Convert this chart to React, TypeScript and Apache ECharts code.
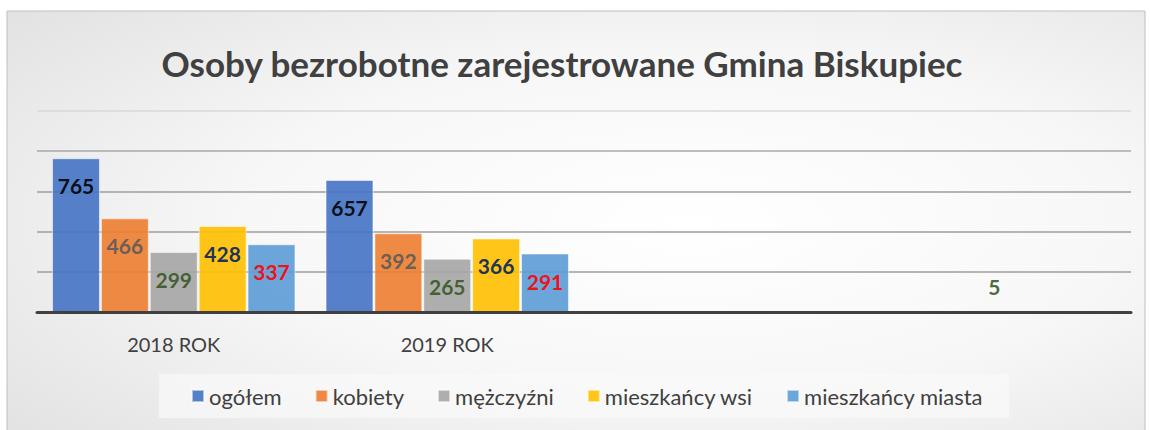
import React, { useEffect, useRef } from "react";
import * as echarts from "echarts";

const categories = ["2018 ROK", "2019 ROK", "", ""];
const seriesNames = ["ogółem", "kobiety", "mężczyźni", "mieszkańcy wsi", "mieszkańcy miasta"];
const ogolem = [765, 657, null, null];
const kobiety = [466, 392, null, null];
const mezczyzni = [299, 265, null, 5];
const mieszkancyWsi = [428, 366, null, null];
const mieszkancyMiasta = [337, 291, null, null];
const yTicks = [0, 200, 400, 600, 800, 1000];

const barColors = ["#4472C4", "#ED7D31", "#A5A5A5", "#FFC000", "#5B9BD5"];
const labelColors = ["#000000", "#595959", "#375623", "#002060", "#FF0000"];

export default function App() {
  const ref = useRef<HTMLDivElement>(null);
  useEffect(() => {
    if (!ref.current) return;
    const chart = echarts.init(ref.current, null, { renderer: "svg" });
    const values = [ogolem, kobiety, mezczyzni, mieszkancyWsi, mieszkancyMiasta];
    const series = values.map((vals, i) => ({
      name: seriesNames[i],
      type: "bar",
      barGap: "2%",
      barCategoryGap: "11%",
      itemStyle: {
        color: barColors[i],
        opacity: 0.9,
        borderColor: "rgba(255,255,255,0.6)",
        borderWidth: 1,
      },
      label: {
        show: true,
        position: "insideTop",
        distance: 17,
        fontFamily: "Lato",
        fontWeight: "bold",
        fontSize: 21,
        color: labelColors[i],
      },
      data: vals.map((v) =>
        v !== null && v < 50
          ? {
              value: v,
              itemStyle: { borderWidth: 0 },
              label: { position: "top", distance: 14 },
            }
          : v
      ),
    }));
    chart.setOption({
      animation: false,
      graphic: [
        {
          type: "rect",
          z: -100,
          shape: { x: 7, y: 11, width: 1138, height: 425 },
          style: {
            fill: new echarts.graphic.RadialGradient(0.6, 0.5, 1.3, [
              { offset: 0, color: "#ffffff" },
              { offset: 0.3, color: "#f7f7f7" },
              { offset: 1, color: "#c6c6c6" },
            ]),
            stroke: "#bfbfbf",
            lineWidth: 1,
          },
        },
      ],
      title: {
        text: "Osoby bezrobotne zarejestrowane Gmina Biskupiec",
        left: 557,
        textAlign: "center",
        top: 38,
        textStyle: {
          fontFamily: "Lato",
          fontWeight: "bold",
          fontSize: 35,
          lineHeight: 40,
          color: "#404040",
        },
      },
      legend: {
        data: seriesNames,
        left: 159,
        top: 374,
        padding: [11, 26, 11, 32],
        backgroundColor: "rgba(250,250,250,0.7)",
        itemWidth: 12,
        itemHeight: 12,
        itemGap: 33,
        icon: "rect",
        textStyle: { fontFamily: "Lato", fontSize: 22, color: "#404040" },
      },
      grid: { left: 37, right: 19, top: 111, bottom: 118, containLabel: false },
      xAxis: {
        type: "category",
        data: categories,
        z: 5,
        axisLine: { show: true, lineStyle: { color: "#404040", width: 3 } },
        axisTick: { show: false },
        axisLabel: {
          margin: 22,
          fontFamily: "Lato",
          fontSize: 20,
          color: "#404040",
        },
      },
      yAxis: {
        type: "value",
        min: yTicks[0],
        max: yTicks[yTicks.length - 1],
        interval: 200,
        axisLabel: { show: false },
        axisLine: { show: false },
        axisTick: { show: false },
        splitLine: {
          show: true,
          lineStyle: {
            color: ["#9e9e9e", "#9e9e9e", "#9e9e9e", "#9e9e9e", "#a8a8a8", "#d9d9d9"],
            width: 1.5,
          },
        },
      },
      series,
    });
    return () => chart.dispose();
  }, []);
  return (
    <div
      ref={ref}
      style={{ position: "fixed", left: 0, top: 0, width: 1150, height: 430, background: "#ffffff" }}
    />
  );
}
